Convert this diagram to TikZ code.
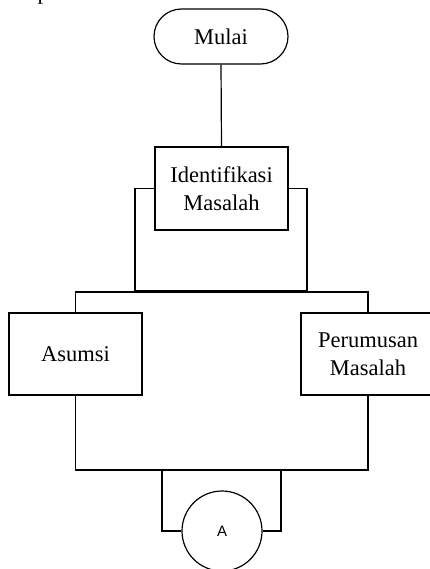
\documentclass[tikz,border=0pt]{standalone}
\usepackage{fontspec}
\setmainfont{Liberation Serif}
\newfontfamily\arialf{Liberation Sans}
\usetikzlibrary{shapes.misc}
\begin{document}
\begin{tikzpicture}[x=1pt,y=-1pt,line width=1.2pt,
  txt/.style={font=\fontsize{22.5}{27.5}\selectfont,align=center,inner sep=0pt},
  procbox/.style={draw,rectangle,txt,minimum width=133pt,minimum height=82pt},
  termbox/.style={draw,rounded rectangle,txt,minimum width=134pt,minimum height=55pt},
  conn/.style={draw,circle,minimum size=80pt,inner sep=0pt,font=\arialf\fontsize{15}{17}\selectfont}]
\useasboundingbox (0,0) rectangle (430,569);
\node[txt,anchor=base west] (pp) at (37,0) {p};
\node[termbox] (mulai) at (221,36.5) {Mulai};
\node[procbox,minimum height=83pt] (ident) at (221.5,188.5) {Identifikasi\\Masalah};
\node[procbox] (asumsi) at (75.5,354) {Asumsi};
\node[procbox,minimum width=134pt] (perum) at (368,354) {Perumusan\\Masalah};
\node[conn] (circA) at (222,531) {A};
\coordinate (bl) at (135,291);
\coordinate (br) at (307,291);
\coordinate (split) at (222,292);
\coordinate (join) at (222,470);
\coordinate (cl) at (162,470);
\coordinate (cr) at (281,470);
\draw (mulai.south) -- (ident.north);
\draw (ident.west) -| (bl) -- (br) |- (ident.east);
\draw (asumsi.north) |- (split) -| (perum.north);
\draw (asumsi.south) |- (join) -| (perum.south);
\draw (circA.west) -| (cl) -- (cr) |- (circA.east);
\end{tikzpicture}
\end{document}
